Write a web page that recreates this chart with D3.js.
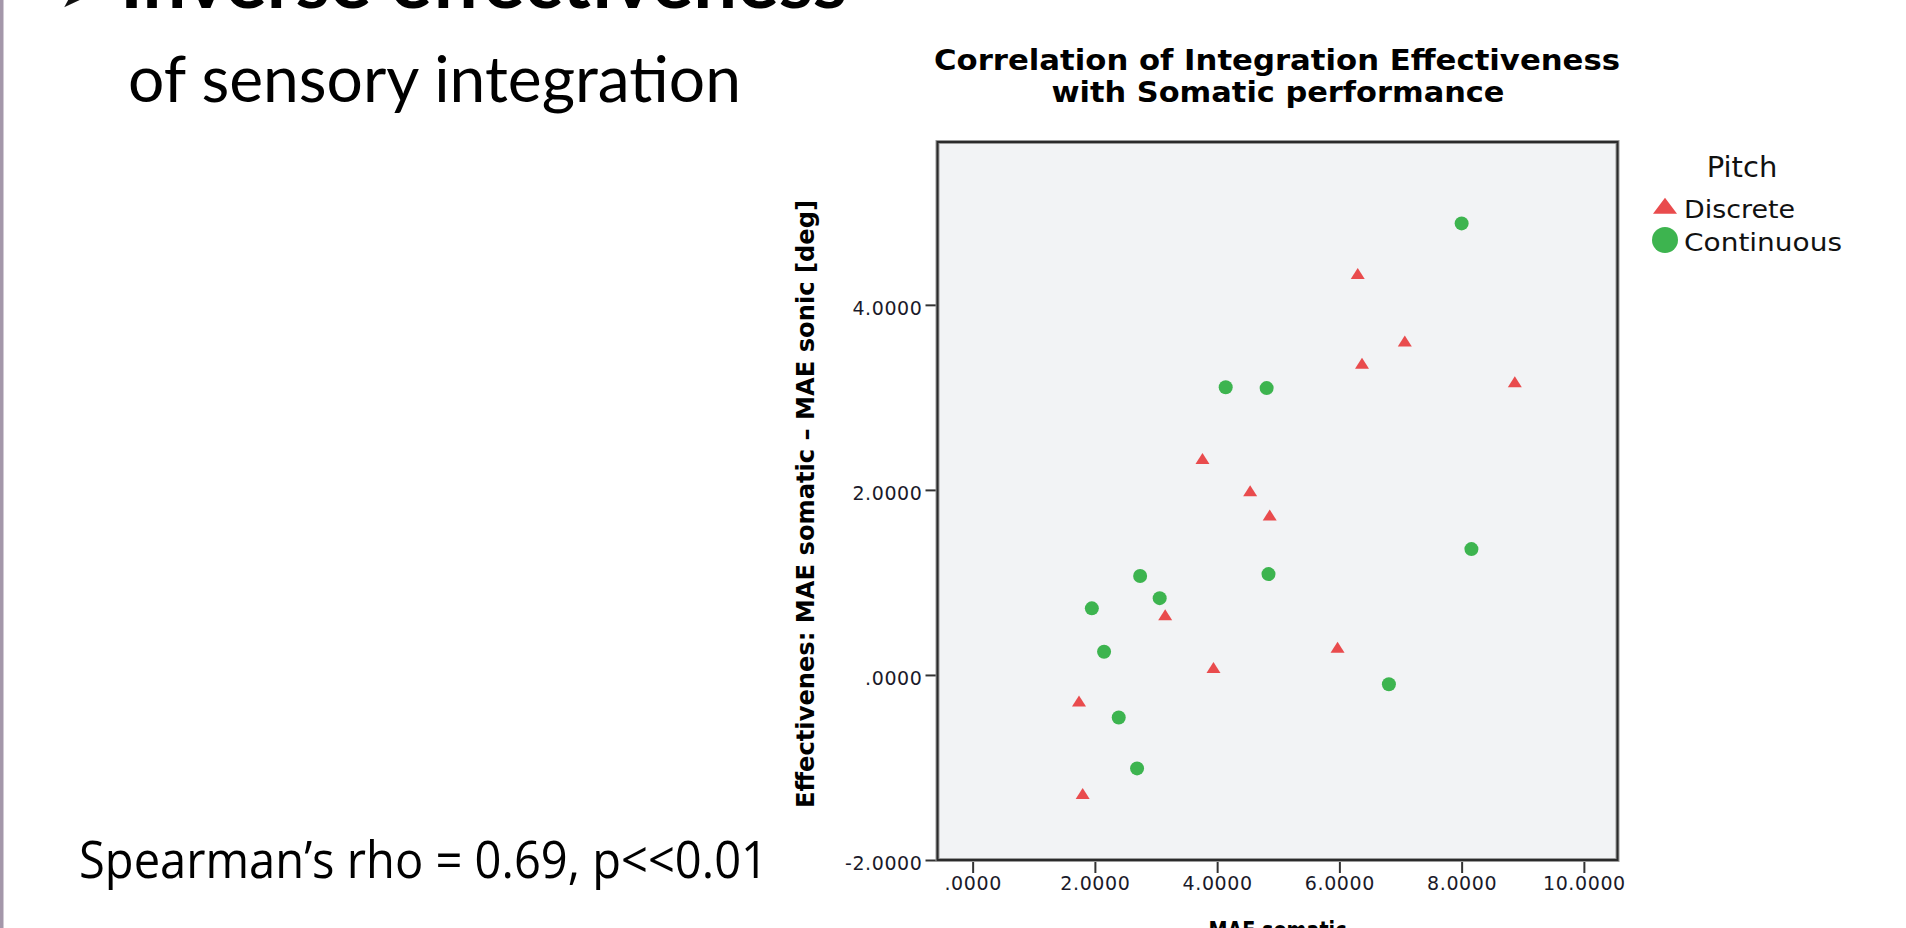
<!DOCTYPE html>
<html>
<head>
<meta charset="utf-8">
<script src="https://cdn.jsdelivr.net/npm/d3@7/dist/d3.min.js"></script>
<style>
  html, body { margin: 0; padding: 0; background: #ffffff; overflow: hidden; }
  svg { display: block; }
</style>
</head>
<body>
<svg id="slide" width="1906" height="928"></svg>
<script>
// Pitch condition groups
const groups = ["Discrete", "Continuous"];

// Discrete pitch: MAE somatic (x) and effectiveness (y)
const discreteX = [6.30, 7.07, 6.37, 8.87, 3.76, 4.54, 4.86, 3.15, 3.94, 5.97, 1.74, 1.80];
const discreteY = [4.33, 3.60, 3.36, 3.16, 2.33, 1.98, 1.72, 0.64, 0.07, 0.29, -0.29, -1.29];

// Continuous pitch: MAE somatic (x) and effectiveness (y)
const continuousX = [8.00, 8.16, 6.81, 4.14, 4.81, 4.84, 2.74, 3.06, 1.95, 2.15, 2.39, 2.69];
const continuousY = [4.88, 1.36, -0.10, 3.11, 3.10, 1.09, 1.07, 0.83, 0.72, 0.25, -0.46, -1.01];

// Axis ticks
const xTicks = [0, 2, 4, 6, 8, 10];
const yTicks = [-2, 0, 2, 4];

const heading = "Inverse effectiveness";
const subheading = "of sensory integration";
const statText = "Spearman\u2019s rho = 0.69, p<<0.01";
const chartTitle = ["Correlation of Integration Effectiveness", "with Somatic performance"];
const xTitle = "MAE somatic";
const yTitle = "Effectivenes: MAE somatic \u2013 MAE sonic [deg]";
const legendTitle = "Pitch";

const colors = { Discrete: "#e94b4d", Continuous: "#3db44f" };

const svg = d3.select("#slide");

// Slide left rule
svg.append("rect").attr("x", 0).attr("y", 0).attr("width", 3.5).attr("height", 928).attr("fill", "#a497aa");

// Slide heading (runs off the top edge)
svg.append("text")
  .attr("x", 58).attr("y", 7)
  .attr("font-family", "DejaVu Sans").attr("font-size", 56).attr("fill", "#111")
  .text("\u27A4");
svg.append("text")
  .attr("x", 120).attr("y", 8)
  .attr("font-family", "Lato").attr("font-weight", 700).attr("font-size", 74).attr("fill", "#000")
  .attr("textLength", 727).attr("lengthAdjust", "spacingAndGlyphs")
  .text(heading);

svg.append("text")
  .attr("x", 128).attr("y", 102)
  .attr("font-family", "Lato").attr("font-size", 64).attr("fill", "#000")
  .attr("textLength", 613).attr("lengthAdjust", "spacingAndGlyphs")
  .text(subheading);

svg.append("text")
  .attr("x", 79).attr("y", 878)
  .attr("font-family", "Open Sans").attr("font-size", 52).attr("fill", "#000")
  .attr("textLength", 689).attr("lengthAdjust", "spacingAndGlyphs")
  .text(statText);

// Plot area
const plot = { left: 937.5, top: 142, right: 1617.5, bottom: 860 };

const x = d3.scaleLinear().domain([-0.575, 10.55]).range([plot.left, plot.right]);
const y = d3.scaleLinear().domain([-2, 5.76]).range([plot.bottom, plot.top]);

svg.append("rect")
  .attr("x", plot.left).attr("y", plot.top)
  .attr("width", plot.right - plot.left).attr("height", plot.bottom - plot.top)
  .attr("fill", "#f2f3f5");

const fmt = d => {
  const s = d3.format(".4f")(d);
  return s.replace(/^0\./, ".").replace("\u2212", "-");
};

const yAxis = svg.append("g")
  .attr("transform", `translate(${plot.left},0)`)
  .call(d3.axisLeft(y).tickValues(yTicks).tickFormat(fmt).tickSize(12).tickSizeOuter(0).tickPadding(3));
const xAxis = svg.append("g")
  .attr("transform", `translate(0,${plot.bottom})`)
  .call(d3.axisBottom(x).tickValues(xTicks).tickFormat(fmt).tickSize(13).tickSizeOuter(0).tickPadding(4));

[xAxis, yAxis].forEach(g => {
  g.select(".domain").remove();
  g.selectAll(".tick line").attr("stroke", "#333").attr("stroke-width", 2);
  g.selectAll(".tick text")
    .attr("font-family", "DejaVu Sans").attr("font-size", 19)
    .attr("letter-spacing", 0.6).attr("fill", "#1a1a2a");
});
yAxis.selectAll(".tick text").attr("dy", "0.5em");

// Plot frame
svg.append("rect")
  .attr("x", plot.left).attr("y", plot.top)
  .attr("width", plot.right - plot.left).attr("height", plot.bottom - plot.top)
  .attr("fill", "none").attr("stroke", "#9a9a9a").attr("stroke-width", 4);
svg.append("rect")
  .attr("x", plot.left).attr("y", plot.top)
  .attr("width", plot.right - plot.left).attr("height", plot.bottom - plot.top)
  .attr("fill", "none").attr("stroke", "#2b2b2b").attr("stroke-width", 2);

// Flat triangle marker
const flatTriangle = (w, h) => ({
  draw(ctx) {
    ctx.moveTo(0, -h * 0.58);
    ctx.lineTo(w / 2, h * 0.42);
    ctx.lineTo(-w / 2, h * 0.42);
    ctx.closePath();
  }
});

const discrete = discreteX.map((v, i) => ({ x: v, y: discreteY[i] }));
const continuous = continuousX.map((v, i) => ({ x: v, y: continuousY[i] }));

svg.append("g").selectAll("circle").data(continuous).join("circle")
  .attr("cx", d => x(d.x)).attr("cy", d => y(d.y)).attr("r", 7)
  .attr("fill", colors.Continuous);

svg.append("g").selectAll("path").data(discrete).join("path")
  .attr("transform", d => `translate(${x(d.x)},${y(d.y)})`)
  .attr("d", d3.symbol().type(flatTriangle(14, 11))())
  .attr("fill", colors.Discrete);

// Titles
const title = svg.append("text")
  .attr("text-anchor", "middle")
  .attr("font-family", "DejaVu Sans").attr("font-weight", 700).attr("font-size", 29).attr("fill", "#000");
title.append("tspan").attr("x", 1277).attr("y", 70).attr("textLength", 686).attr("lengthAdjust", "spacingAndGlyphs").text(chartTitle[0]);
title.append("tspan").attr("x", 1278).attr("y", 102).attr("textLength", 453).attr("lengthAdjust", "spacingAndGlyphs").text(chartTitle[1]);

svg.append("text")
  .attr("transform", `translate(814,${(plot.top + plot.bottom) / 2 + 3}) rotate(-90)`)
  .attr("text-anchor", "middle")
  .attr("font-family", "DejaVu Sans").attr("font-weight", 700).attr("font-size", 24).attr("fill", "#000")
  .attr("textLength", 608).attr("lengthAdjust", "spacingAndGlyphs")
  .text(yTitle);

svg.append("text")
  .attr("x", (plot.left + plot.right) / 2).attr("y", 939)
  .attr("text-anchor", "middle")
  .attr("font-family", "DejaVu Sans").attr("font-weight", 700).attr("font-size", 24).attr("fill", "#000")
  .attr("textLength", 138).attr("lengthAdjust", "spacingAndGlyphs")
  .text(xTitle);

// Legend
svg.append("text")
  .attr("x", 1742).attr("y", 177).attr("text-anchor", "middle")
  .attr("font-family", "DejaVu Sans").attr("font-size", 29).attr("fill", "#111")
  .text(legendTitle);

const legend = svg.append("g");
groups.forEach((g, i) => {
  const cy = 207 + i * 33;
  if (g === "Discrete") {
    legend.append("path")
      .attr("transform", `translate(1665,${cy})`)
      .attr("d", d3.symbol().type(flatTriangle(24, 16))())
      .attr("fill", colors[g]);
  } else {
    legend.append("circle").attr("cx", 1665).attr("cy", cy).attr("r", 13).attr("fill", colors[g]);
  }
  legend.append("text")
    .attr("x", 1684).attr("y", cy + 11)
    .attr("font-family", "DejaVu Sans").attr("font-size", 25).attr("fill", "#111")
    .attr("textLength", g === "Discrete" ? 111 : 158).attr("lengthAdjust", "spacingAndGlyphs")
    .text(g);
});
</script>
</body>
</html>
